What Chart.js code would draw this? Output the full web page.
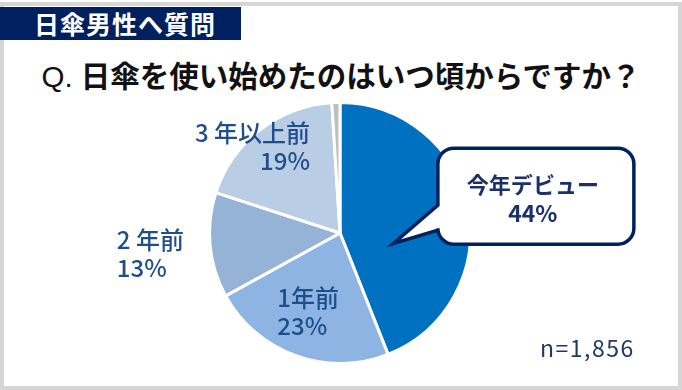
<!DOCTYPE html>
<html>
<head>
<meta charset="utf-8">
<script src="https://cdn.jsdelivr.net/npm/chart.js@4/dist/chart.umd.min.js"></script>
<style>
  body { margin: 0; width: 682px; height: 390px; overflow: hidden; background: #fff;
         font-family: "Noto Sans CJK JP", "Noto Sans", sans-serif; }
  #frame { position: absolute; left: 0; top: 2px; width: 674px; height: 380px; border: 4px solid #d6d6d6; }
  #tag { position: absolute; left: 0; top: 7px; width: 241px; height: 33px; background: #002060;
         color: #fff; font-weight: bold; font-size: 25px; letter-spacing: 1px; line-height: 33px; padding-left: 34px; box-sizing: border-box; }
  #title { position: absolute; left: 0; width: 682px; top: 54px; text-align: center;
           font-size: 29.5px; font-weight: bold; color: #111; line-height: 40px; }
  #title .q { font-weight: normal; font-family: "Liberation Sans", sans-serif; }
  #n { position: absolute; left: 540px; top: 332px; font-size: 23px; letter-spacing: 1.5px; color: #1f3864; line-height: 30px; }
  #chart { position: absolute; left: 0; top: 0; }
</style>
</head>
<body>
<div id="frame"></div>
<div id="tag">日傘男性へ質問</div>
<div id="title"><span class="q">Q. </span>日傘を使い始めたのはいつ頃からですか？</div>
<canvas id="chart" width="682" height="390"></canvas>
<div id="n">n=1,856</div>
<script>
// data
const labels = ['今年デビュー', '1年前', '2 年前', '3 年以上前', 'その他'];
const values = [44, 23, 13, 19, 1];
const shown = ['44%', '23%', '13%', '19%', ''];
const colors = ['#0070c0', '#8eb4e3', '#95b3d7', '#b9cde5', '#bfbfbf'];

// label placement, in units of the pie radius from its centre
const labelPos = [
  null,
  { dx: -0.48, dy: 0.5, align: 'left' },
  { dx: -1.71, dy: 0.05, align: 'left' },
  { dx: -0.23, dy: -0.77, align: 'right' },
  null
];

const labelPlugin = {
  id: 'pieLabels',
  afterDatasetsDraw(chart) {
    const ctx = chart.ctx;
    const arcs = chart.getDatasetMeta(0).data;
    const cx = arcs[0].x, cy = arcs[0].y, r = arcs[0].outerRadius;
    ctx.save();
    ctx.fillStyle = '#1f4e8c';
    ctx.font = '500 24px "Noto Sans CJK JP"';
    ctx.textBaseline = 'middle';
    labelPos.forEach((p, i) => {
      if (!p) return;
      const x = cx + p.dx * r, y = cy + p.dy * r;
      ctx.textAlign = p.align;
      ctx.fillText(labels[i], x, y);
      ctx.fillText(shown[i], x, y + 28);
    });

    // callout for the first slice
    const tipX = cx + 0.41 * r, tipY = cy + 0.08 * r;
    const bx = cx + 0.75 * r, by = cy - 0.65 * r, bw = 196, bh = 96, rad = 16;
    ctx.beginPath();
    ctx.moveTo(bx + rad, by);
    ctx.lineTo(bx + bw - rad, by);
    ctx.arcTo(bx + bw, by, bx + bw, by + rad, rad);
    ctx.lineTo(bx + bw, by + bh - rad);
    ctx.arcTo(bx + bw, by + bh, bx + bw - rad, by + bh, rad);
    ctx.lineTo(bx + rad, by + bh);
    ctx.arcTo(bx, by + bh, bx, by + bh - rad, rad);
    ctx.lineTo(bx, by + 82);
    ctx.lineTo(tipX, tipY);
    ctx.lineTo(bx, by + 57);
    ctx.lineTo(bx, by + rad);
    ctx.arcTo(bx, by, bx + rad, by, rad);
    ctx.closePath();
    ctx.fillStyle = '#fff';
    ctx.fill();
    ctx.lineWidth = 3.5;
    ctx.strokeStyle = '#002060';
    ctx.lineJoin = 'miter';
    ctx.stroke();
    ctx.fillStyle = '#1a2f6b';
    ctx.font = 'bold 22px "Noto Sans CJK JP"';
    ctx.textAlign = 'center';
    ctx.fillText(labels[0], bx + 95, by + 36);
    ctx.font = 'bold 23px "Noto Sans CJK JP"';
    ctx.fillText(shown[0], bx + 95, by + 65);
    ctx.restore();
  }
};

new Chart(document.getElementById('chart'), {
  type: 'pie',
  data: {
    labels: labels,
    datasets: [{
      data: values,
      backgroundColor: colors,
      borderColor: '#fff',
      borderWidth: 3
    }]
  },
  options: {
    responsive: false,
    animation: false,
    layout: { padding: { left: 207, right: 209, top: 101, bottom: 25 } },
    plugins: { legend: { display: false }, tooltip: { enabled: false } }
  },
  plugins: [labelPlugin]
});
</script>
</body>
</html>
